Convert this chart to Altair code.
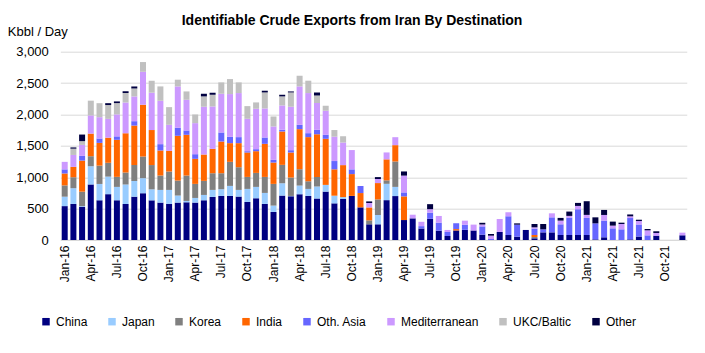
import altair as alt
import pandas as pd

month_names = ["Jan", "Feb", "Mar", "Apr", "May", "Jun", "Jul", "Aug", "Sep", "Oct", "Nov", "Dec"]
years = ["16", "17", "18", "19", "20", "21"]
months = [f"{m}-{y}" for y in years for m in month_names]

series = ["China", "Japan", "Korea", "India", "Oth. Asia", "Mediterranean", "UKC/Baltic", "Other"]
colors = ["#000080", "#99CCFF", "#808080", "#FF6600", "#6666FF", "#CC99FF", "#C0C0C0", "#000040"]

china = [540, 575, 530, 885, 633, 730, 633, 575, 690, 745, 632, 596,
         575, 596, 601, 596, 633, 686, 702, 702, 692, 606, 665, 575,
         447, 708, 697, 729, 702, 660, 771, 584, 653, 703, 520, 250,
         250, 635, 700, 318, 345, 183, 338, 149, 64, 152, 162, 152,
         85, 0, 128, 80, 53, 160, 27, 122, 122, 80, 80, 80,
         80, 10, 43, 0, 0, 10, 55, 0, 69, 0, 0, 75]
japan = [150, 250, 10, 290, 260, 280, 213, 308, 250, 240, 175, 202,
         223, 112, 21, 74, 85, 112, 107, 160, 106, 208, 181, 175,
         101, 196, 5, 138, 112, 191, 107, 122, 30, 0, 0, 0,
         148, 260, 146, 0, 0, 0, 0, 0, 0, 0, 0, 0,
         0, 0, 0, 0, 0, 0, 0, 0, 0, 0, 0, 0,
         0, 0, 0, 0, 0, 0, 0, 0, 0, 0, 0, 0]
korea = [180, 175, 230, 160, 292, 220, 160, 192, 255, 345, 387, 229,
         293, 239, 405, 224, 224, 266, 255, 383, 362, 191, 223, 255,
         346, 293, 293, 261, 122, 154, 0, 0, 0, 0, 0, 63,
         249, 55, 405, 0, 0, 0, 0, 0, 0, 0, 0, 0,
         0, 0, 0, 0, 0, 0, 21, 0, 0, 0, 0, 0,
         0, 0, 0, 0, 0, 0, 0, 0, 0, 0, 0, 0]
india = [190, 165, 495, 360, 362, 400, 590, 627, 628, 825, 558, 399,
         329, 713, 649, 399, 420, 388, 505, 298, 383, 389, 346, 527,
         340, 532, 399, 638, 703, 681, 734, 420, 510, 347, 228, 206,
         260, 335, 260, 377, 0, 0, 0, 0, 0, 22, 0, 0,
         0, 0, 0, 0, 0, 0, 32, 0, 0, 0, 0, 0,
         0, 0, 0, 0, 0, 0, 0, 0, 0, 0, 0, 0]
oth_asia = [65, 0, 75, 0, 70, 0, 55, 0, 70, 0, 0, 101,
            0, 128, 69, 74, 0, 0, 144, 101, 96, 21, 32, 101,
            43, 27, 37, 69, 63, 70, 64, 132, 0, 75, 112, 0,
            0, 0, 0, 63, 0, 38, 98, 128, 64, 93, 80, 0,
            132, 16, 0, 298, 191, 0, 101, 48, 239, 170, 277, 410,
            272, 255, 266, 186, 170, 340, 192, 74, 0, 0, 0, 0]
mediterranean = [120, 190, 175, 290, 340, 300, 350, 490, 394, 525, 595, 691,
                 415, 659, 489, 495, 761, 676, 617, 681, 702, 516, 644, 463,
                 532, 388, 692, 612, 639, 425, 383, 388, 360, 308, 0, 70,
                 65, 110, 127, 268, 58, 69, 55, 106, 32, 0, 66, 93,
                 30, 53, 207, 64, 0, 0, 21, 0, 64, 59, 27, 53,
                 48, 0, 90, 43, 85, 27, 55, 80, 43, 0, 0, 42]
ukc_baltic = [0, 100, 60, 235, 223, 220, 180, 150, 127, 155, 190, 229,
              282, 107, 133, 138, 165, 186, 181, 239, 170, 202, 101, 255,
              159, 144, 228, 170, 197, 123, 80, 106, 100, 0, 0, 0,
              0, 0, 0, 0, 0, 0, 0, 0, 0, 0, 0, 0,
              0, 0, 0, 0, 0, 0, 0, 0, 0, 0, 0, 0,
              0, 0, 0, 0, 0, 0, 0, 0, 0, 0, 0, 0]
other = [0, 20, 105, 0, 0, 30, 27, 26, 32, 0, 0, 0,
         0, 0, 0, 0, 42, 32, 0, 0, 0, 0, 0, 27,
         0, 26, 16, 0, 0, 47, 0, 0, 0, 0, 0, 26,
         30, 0, 0, 66, 0, 0, 80, 0, 0, 0, 0, 0,
         27, 27, 0, 0, 21, 0, 53, 85, 0, 43, 69, 48,
         218, 96, 80, 64, 21, 30, 21, 21, 27, 0, 0, 0]

y_ticks = [0, 500, 1000, 1500, 2000, 2500, 3000]

all_values = [china, japan, korea, india, oth_asia, mediterranean, ukc_baltic, other]
rows = []
for k, (name, vals) in enumerate(zip(series, all_values)):
    for m, v in zip(months, vals):
        rows.append({"month": m, "series": name, "value": v, "ord": k})
df = pd.DataFrame(rows)

FONT = "Liberation Sans"

chart = alt.Chart(df).mark_bar().encode(
    x=alt.X("month:N", sort=months,
            scale=alt.Scale(paddingInner=0.31, paddingOuter=0.155),
            axis=alt.Axis(title=None, labelAngle=-90, ticks=False, grid=False,
                          labelExpr="indexof(['Jan','Apr','Jul','Oct'], slice(datum.value,0,3)) >= 0 ? datum.value : ''",
                          domainColor="#d9d9d9", domainWidth=1,
                          labelFont=FONT, labelFontSize=12, labelColor="#000000",
                          labelPadding=5, labelOverlap=False)),
    y=alt.Y("value:Q", stack="zero",
            scale=alt.Scale(domain=[0, 3000], nice=False),
            axis=alt.Axis(values=y_ticks, format=",d", title="Kbbl / Day",
                          titleAngle=0, titleAlign="left", titleBaseline="alphabetic",
                          titleX=-53, titleY=-16, titleFont=FONT, titleFontSize=13,
                          titleFontWeight="normal", titleColor="#000000",
                          domain=False, ticks=False, labelPadding=12,
                          labelFont=FONT, labelFontSize=13, labelColor="#000000",
                          gridColor="#d9d9d9", gridWidth=1)),
    color=alt.Color("series:N",
                    scale=alt.Scale(domain=series, range=colors),
                    legend=alt.Legend(title=None, orient="none", direction="horizontal",
                                      columns=8, legendX=-20.35, legendY=264,
                                      symbolType="square", symbolSize=56,
                                      symbolStrokeWidth=0, columnPadding=18,
                                      labelOffset=4, labelFont=FONT,
                                      labelFontSize=12, labelColor="#000000")),
    order=alt.Order("ord:Q", sort="ascending"),
).properties(
    width=626.4,
    height=188.3,
    title=alt.TitleParams("Identifiable Crude Exports from Iran By Destination",
                          font=FONT, fontSize=14, fontWeight="bold", color="#000000",
                          anchor="middle", frame="group", dx=-21.5, dy=6),
    padding={"left": 60.35, "top": 51.7, "right": 18, "bottom": 113},
    autosize=alt.AutoSizeParams(type="none"),
).configure_view(stroke=None)

chart.save("out.html", embed_options={"renderer": "svg", "actions": False})
